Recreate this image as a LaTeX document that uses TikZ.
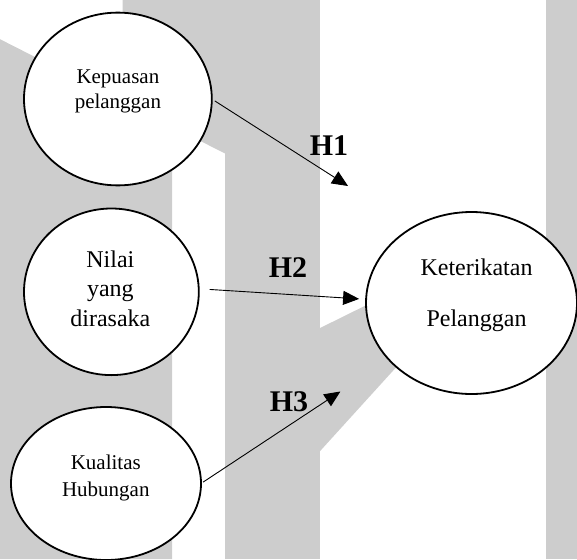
\documentclass[tikz,border=0pt]{standalone}
\usepackage{fontspec}
\setmainfont{Liberation Serif}
\usetikzlibrary{shapes.geometric,arrows.meta}
\definecolor{wm}{RGB}{205,205,205}
\begin{document}
\begin{tikzpicture}[x=1pt,y=-1pt,
  bubble/.style={ellipse,draw=black,line width=1.8pt,fill=white,inner sep=0pt,outer sep=0pt},
  conn/.style={line width=0.9pt,-{Triangle[length=16pt,width=14pt]}},
  hlab/.style={font=\bfseries\fontsize{30}{30}\selectfont,inner sep=0pt},
  txt/.style={align=center,inner sep=0pt}]
\useasboundingbox (0,0) rectangle (577,559);
% watermark background
\fill[wm] (122.5,0) -- (225,0) -- (225,153.5) -- (172,126.6) -- (172,559) -- (0,559) -- (0,39.2) -- (122.5,101.4) -- cycle;
\fill[wm] (225,0) rectangle (319.5,559);
\fill[wm] (319.5,328.3) -- (405,286) -- (420,341) -- (319.5,451.7) -- cycle;
\fill[wm] (545.5,0) rectangle (577,559);
% ellipses
\node[bubble,minimum width=187.8pt,minimum height=172.8pt] (kep) at (117.9,99) {};
\node[bubble,minimum width=174.8pt,minimum height=166.6pt] (nil) at (111.4,291.8) {};
\node[bubble,minimum width=190pt,minimum height=153pt] (kua) at (106,483.5) {};
\node[bubble,minimum width=211pt,minimum height=182pt] (ket) at (471.5,303) {};
% texts
\node[txt,font=\fontsize{21}{25}\selectfont] (kept) at (117.9,91) {Kepuasan\\pelanggan};
\node[txt,font=\fontsize{24}{29.3}\selectfont] (nilt) at (110.4,288.5) {Nilai\\yang\\dirasaka};
\node[txt,font=\fontsize{21}{26.7}\selectfont] (kuat) at (105.8,477.8) {Kualitas\\Hubungan};
\node[txt,font=\fontsize{24}{51.7}\selectfont] (kett) at (476.5,295.3) {Keterikatan\\Pelanggan};
% labels
\node[hlab] (h1) at (329,146) {H1};
\node[hlab] (h2) at (288,268) {H2};
\node[hlab] (h3) at (289,402) {H3};
% connectors
\coordinate (e1) at (348,186);
\coordinate (e3) at (340.4,391.5);
\draw[conn,shorten <=3.5pt] (kep.east) -- (e1);
\draw[conn,shorten <=11pt,shorten >=7pt] (nil.2) -- (ket.178);
\draw[conn,shorten <=2.5pt] (kua.east) -- (e3);
\end{tikzpicture}
\end{document}
